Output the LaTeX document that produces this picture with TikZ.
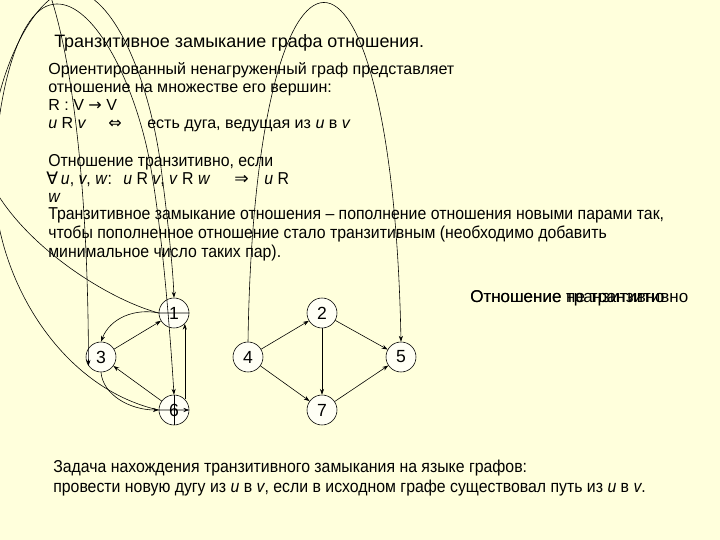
\documentclass[tikz,border=0pt]{standalone}
\usepackage{fontspec}
\setmainfont{Liberation Sans}
\newfontfamily\narrowfont[FakeStretch=0.92]{Liberation Sans}
\newfontfamily\symbfont{DejaVu Sans}
\usetikzlibrary{arrows.meta}
\definecolor{slidebg}{RGB}{255,255,220}
\definecolor{vertexfill}{RGB}{255,255,245}

\begin{document}
\begin{tikzpicture}[x=0.03cm,y=-0.03cm,line width=0.5pt]
    % `vertex' is used for the vertices of both graphs.
    % `arc' is used for the directed arcs, `darc' for the one with two tips.
    % `txt' and `ntxt' are used for the lines of text (normal and narrow).
    \tikzstyle{vertex} = [draw,fill=vertexfill,circle,minimum size=0.9cm,inner sep=0pt,font=\fontsize{15}{15}\selectfont]
    \tikzstyle{arc} = [-{Stealth[length=5pt,width=3.5pt]}]
    \tikzstyle{darc} = [{Stealth[length=5pt,width=3.5pt]}-{Stealth[length=5pt,width=3.5pt]}]
    \tikzstyle{txt} = [anchor=base west,inner sep=0pt,font=\fontsize{13.7}{16}\selectfont]
    \tikzstyle{ntxt} = [anchor=base west,inner sep=0pt,font=\narrowfont\fontsize{14.7}{16}\selectfont]
    %
    \fill[slidebg] (0,0) rectangle (720,540);
    \useasboundingbox (0,0) rectangle (720,540);
    \clip (0,0) rectangle (720,540);
    % Text of the slide.
    \node[txt,font=\fontsize{15.3}{18}\selectfont] (title) at (54,48) {Транзитивное замыкание графа отношения.};
    \node[txt] (def1) at (48,75) {Ориентированный ненагруженный граф представляет};
    \node[txt] (def2) at (48,93) {отношение на множестве его вершин:};
    \node[txt] (def3) at (48,111) {R : V {\symbfont→} V};
    \node[txt] (def4a) at (48,129) {\textit{u} R \textit{v}};
    \node[txt] (def4b) at (108,129) {\symbfont⇔};
    \node[txt] (def4c) at (147,129) {есть дуга, ведущая из \textit{u} в \textit{v}};
    \node[ntxt] (tr1) at (48,167) {Отношение транзитивно, если};
    \node[ntxt] (tr2a) at (46,185) {{\symbfont∀}\,\textit{u}, \textit{v}, \textit{w}:};
    \node[ntxt] (tr2b) at (123,185) {\textit{u} R \textit{v}, \textit{v} R \textit{w}};
    \node[ntxt] (tr2c) at (234,185) {\symbfont⇒};
    \node[ntxt] (tr2d) at (264,185) {\textit{u} R};
    \node[ntxt] (tr3) at (48,203) {\textit{w}};
    \node[ntxt] (cl1) at (48,220) {Транзитивное замыкание отношения – пополнение отношения новыми парами так,};
    \node[ntxt] (cl2) at (48,239) {чтобы пополненное отношение стало транзитивным (необходимо добавить};
    \node[ntxt] (cl3) at (48,258) {минимальное число таких пар).};
    \node[txt,font=\fontsize{14.5}{16}\selectfont] (st1) at (470,303) {Отношение транзитивно};
    \node[txt,font=\fontsize{14.5}{16}\selectfont] (st2) at (470,303) {Отношение не транзитивно};
    \node[ntxt] (task1) at (53,472) {Задача нахождения транзитивного замыкания на языке графов:};
    \node[ntxt] (task2) at (53,492) {провести новую дугу из \textit{u} в \textit{v}, если в исходном графе существовал путь из \textit{u} в \textit{v}.};
    % Vertices.
    \node[vertex] (v1) at (174,313) {1};
    \node[vertex] (v3) at (101,357) {3};
    \node[vertex] (v6) at (174,410) {6};
    \node[vertex] (v2) at (322,313) {2};
    \node[vertex] (v4) at (248,357) {4};
    \node[vertex] (v5) at (401,357) {5};
    \node[vertex] (v7) at (322,410) {7};
    \coordinate (c3top) at (35,-40);
    % Arcs of the first graph.
    \draw[arc] (v3) -- (v1);
    \draw[arc] (v6) -- (v3);
    \draw[arc] (v6.45) -- (v1.-45);
    \draw[arc] (v1.west) .. controls (135,308) and (110,318) .. (v3.north);
    \draw[arc] (v3.south) .. controls (103,395) and (130,410) .. (v6.west);
    % Added arcs (long loops).
    \draw[arc] (v1.east) -- (v1.west) .. controls (110,300) and (30,250) .. (-5,190)
        .. controls (-25,120) and (30,-25) .. (80,-8) .. controls (120,5) and (150,90) .. (160,160)
        .. controls (168,220) and (173,270) .. (v1.north);
    \draw[darc] (v6.east) -- (v6.west) .. controls (70,390) and (10,300) .. (-3,215)
        .. controls (-12,140) and (10,15) .. (50,5) .. controls (85,-5) and (125,60) .. (145,140)
        .. controls (160,200) and (170,330) .. (v6.north);
    \draw (v6.north) -- (v6.south);
    \draw[arc] (c3top) .. controls (65,10) and (88,150) .. (v3.215);
    % Arcs of the second graph.
    \draw[arc] (v4) -- (v2);
    \draw[arc] (v2) -- (v5);
    \draw[arc] (v2) -- (v7);
    \draw[arc] (v4) -- (v7);
    \draw[arc] (v7) -- (v5);
    \draw[arc] (v4.north) .. controls (255,-110) and (392,-110) .. (v5.north);
\end{tikzpicture}
\end{document}
